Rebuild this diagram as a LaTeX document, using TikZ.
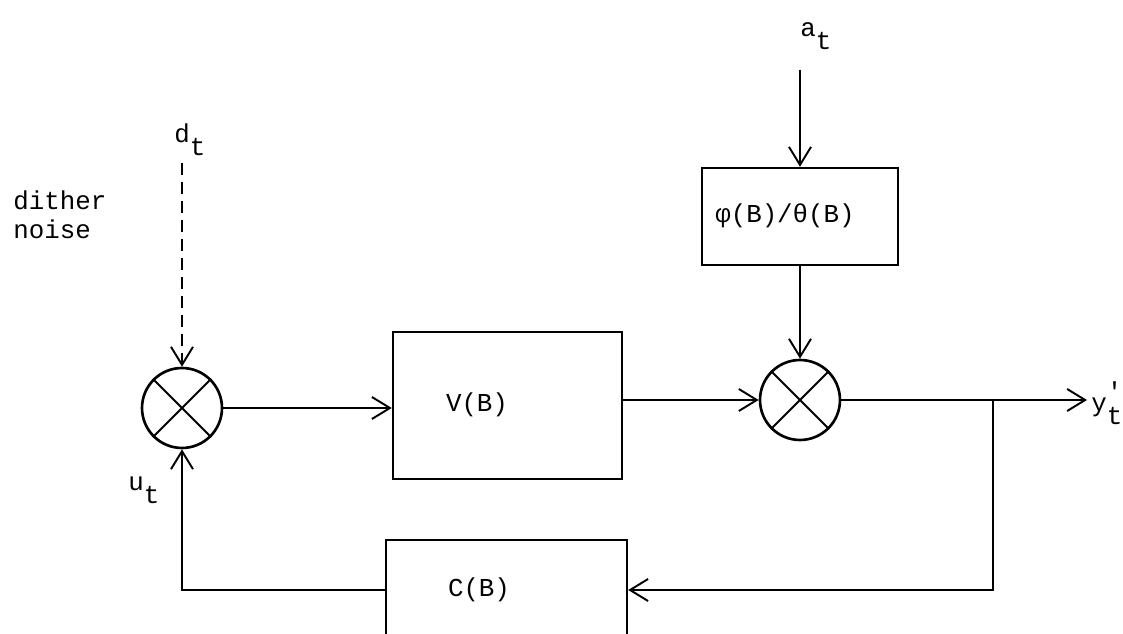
\documentclass[tikz,border=0pt]{standalone}
\usepackage{fontspec}
\setmonofont{Liberation Mono}
\usetikzlibrary{arrows.meta, positioning}
\newcommand{\lowt}{\raisebox{-0.5em}{t}}

\begin{document}
\begin{tikzpicture}[x=0.02cm, y=-0.02cm,
  font=\ttfamily\fontsize{14.7}{17}\selectfont,
  block/.style={draw, line width=1.4pt, inner sep=0pt},
  junction/.style={draw, circle, line width=1.5pt, minimum size=1.6cm, inner sep=0pt},
  tag/.style={inner sep=0pt, anchor=base west},
  flow/.style={line width=1.1pt, -{Straight Barb[length=0.36cm, width=0.44cm, line width=1.1pt]}}]
  \useasboundingbox (0,0) rectangle (1123,634);
  % Blocks
  \node[block, minimum width=4.58cm, minimum height=2.94cm] (vb) at (507.5,405.5) {};
  \node (vblab) at (477,405) {V(B)};
  \node[block, minimum width=3.92cm, minimum height=1.94cm] (filt) at (800,216.5) {};
  \node (filtlab) at (785,216) {φ(B)/θ(B)};
  \node[block, minimum width=4.82cm, minimum height=2cm] (cb) at (506.5,590) {};
  \node (cblab) at (479,590) {C(B)};
  % Summing junctions
  \node[junction] (sumL) at (182,408) {};
  \node[junction] (sumR) at (800,400) {};
  \foreach \j in {sumL, sumR}{
    \draw[line width=1.1pt] (\j.north west) -- (\j.south east);
    \draw[line width=1.1pt] (\j.north east) -- (\j.south west);
  }
  % Signals
  \node[tag] (at) at (800,37) {a\lowt};
  \node[tag] (dt) at (174,143) {d\lowt};
  \node[tag] (ut) at (128,491) {u\lowt};
  \node[tag] (yt) at (1091,412) {y\rlap{\raisebox{0.45em}{'}}\lowt};
  \node[inner sep=0pt, anchor=north west, align=left] (dither) at (13,190) {dither\\noise};
  \coordinate (dtop) at (182,163);
  \coordinate (atop) at (800,70);
  \coordinate (yout) at (1087,400);
  \coordinate (tap) at (993,400);
  % Connectors
  \draw[flow, dash pattern=on 0.24cm off 0.14cm] (dtop) -- (sumL.north);
  \draw[flow] (sumL.east) -- (sumL.east -| vb.west);
  \draw[flow] (sumR.west -| vb.east) -- (sumR.west);
  \draw[flow] (atop) -- (filt.north);
  \draw[flow] (filt.south) -- (sumR.north);
  \draw[flow] (sumR.east) -- (yout);
  \draw[flow] (tap) |- (cb.east);
  \draw[flow] (cb.west) -| (sumL.south);
\end{tikzpicture}
\end{document}
